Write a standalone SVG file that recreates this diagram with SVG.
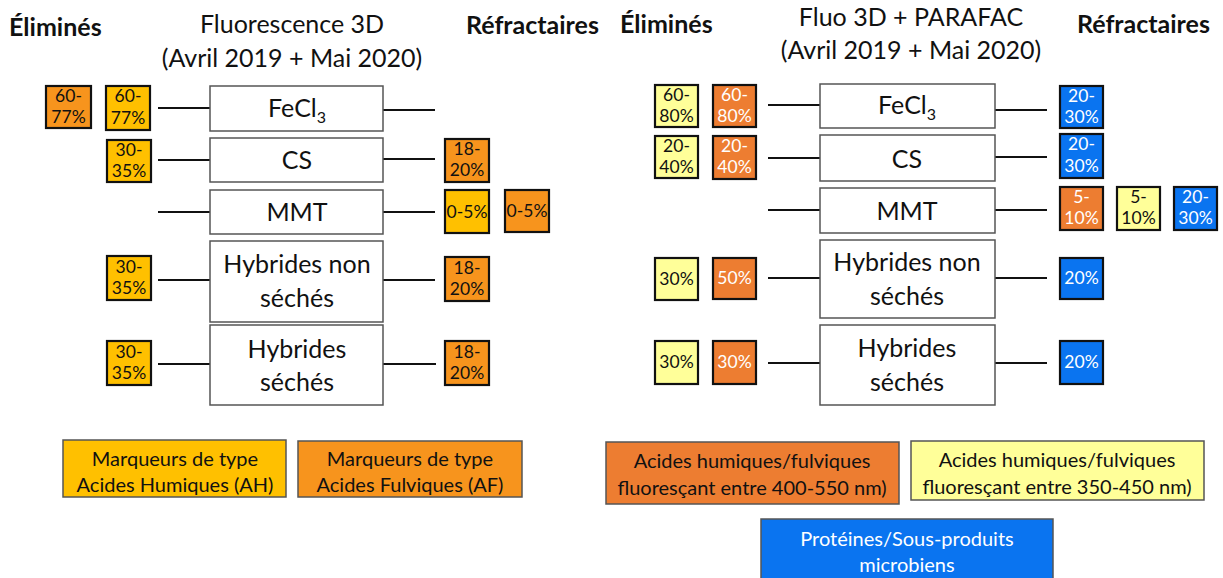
<svg xmlns="http://www.w3.org/2000/svg" width="1223" height="578" viewBox="0 0 1223 578">
<style>
text{font-family:Lato,"Noto Sans","Liberation Sans",sans-serif;fill:#111;text-anchor:middle}
.hd{font-weight:bold;font-size:25px;text-anchor:start}
.tt{font-size:25px}
.main rect{fill:#fff;stroke:#555;stroke-width:1.5}
.main text{font-size:25px}
.sm rect{stroke:#111;stroke-width:2.2}
.sm text{font-size:17.5px}
.y rect{fill:#FFC000}
.o rect{fill:#F7941D}
.p rect{fill:#FFFF99}
.r rect{fill:#ED7D31}
.r text,.b text{fill:#fff}
.b rect{fill:#0A74F0}
.lg rect{stroke:#555;stroke-width:1.5}
.lg text{font-size:20px}
.lgb text{fill:#fff}
#connectors line{stroke:#111;stroke-width:2.2}
</style>
<rect width="1223" height="578" fill="#fff"/>

<!-- Headers -->
<g id="hdr-left">
<text class="hd" x="9" y="36">Éliminés</text>
<text class="tt" x="292" y="33">Fluorescence 3D</text>
<text class="tt" x="292" y="67">(Avril 2019 + Mai 2020)</text>
<text class="hd" x="466" y="34">Réfractaires</text>
</g>
<g id="hdr-right">
<text class="hd" x="620" y="33">Éliminés</text>
<text class="tt" x="911" y="26">Fluo 3D + PARAFAC</text>
<text class="tt" x="911" y="59">(Avril 2019 + Mai 2020)</text>
<text class="hd" x="1077" y="33">Réfractaires</text>
</g>

<!-- Connectors -->
<g id="connectors">
<line x1="158" y1="108" x2="210" y2="108"/><line x1="383" y1="110" x2="435" y2="110"/>
<line x1="158" y1="160" x2="210" y2="160"/><line x1="383" y1="159" x2="435" y2="159"/>
<line x1="158" y1="212" x2="210" y2="212"/><line x1="383" y1="212" x2="435" y2="212"/>
<line x1="158" y1="280" x2="210" y2="280"/><line x1="383" y1="280" x2="435" y2="280"/>
<line x1="158" y1="364" x2="210" y2="364"/><line x1="383" y1="364" x2="436" y2="364"/>
<line x1="768" y1="105" x2="820" y2="105"/><line x1="995" y1="110" x2="1047" y2="110"/>
<line x1="768" y1="158" x2="820" y2="158"/><line x1="995" y1="157" x2="1047" y2="157"/>
<line x1="768" y1="210" x2="820" y2="210"/><line x1="995" y1="210" x2="1047" y2="210"/>
<line x1="768" y1="278" x2="820" y2="278"/><line x1="995" y1="278" x2="1047" y2="278"/>
<line x1="768" y1="363" x2="820" y2="363"/><line x1="995" y1="363" x2="1047" y2="363"/>
</g>

<!-- Left main nodes -->
<g id="L-fecl3" class="main"><rect x="210" y="86" width="173" height="45"/><text x="297" y="117">FeCl<tspan font-size="16" dy="6">3</tspan></text></g>
<g id="L-cs" class="main"><rect x="210" y="138" width="173" height="44"/><text x="297" y="169">CS</text></g>
<g id="L-mmt" class="main"><rect x="210" y="190" width="173" height="44"/><text x="297" y="221">MMT</text></g>
<g id="L-hns" class="main"><rect x="210" y="241" width="173" height="81"/><text x="297" y="273">Hybrides non</text><text x="297" y="307">séchés</text></g>
<g id="L-hs" class="main"><rect x="210" y="325" width="173" height="80"/><text x="297" y="358">Hybrides</text><text x="297" y="391">séchés</text></g>

<!-- Left small boxes -->
<g id="L-fecl3-af" class="sm o"><rect x="46" y="86" width="45" height="42"/><text x="68.5" y="102">60-</text><text x="68.5" y="123">77%</text></g>
<g id="L-fecl3-ah" class="sm y"><rect x="106" y="86" width="44" height="44"/><text x="128" y="102">60-</text><text x="128" y="124">77%</text></g>
<g id="L-cs-ah" class="sm y"><rect x="107" y="140" width="44" height="42"/><text x="129" y="156">30-</text><text x="129" y="177">35%</text></g>
<g id="L-cs-af" class="sm o"><rect x="445" y="139" width="44" height="43"/><text x="467" y="155">18-</text><text x="467" y="176">20%</text></g>
<g id="L-mmt-ah" class="sm y"><rect x="445" y="190" width="44" height="43"/><text x="467" y="218">0-5%</text></g>
<g id="L-mmt-af" class="sm o"><rect x="505" y="190" width="44" height="42"/><text x="527" y="217">0-5%</text></g>
<g id="L-hns-ah" class="sm y"><rect x="107" y="256" width="44" height="44"/><text x="129" y="273">30-</text><text x="129" y="294">35%</text></g>
<g id="L-hns-af" class="sm o"><rect x="445" y="257" width="44" height="44"/><text x="467" y="274">18-</text><text x="467" y="295">20%</text></g>
<g id="L-hs-ah" class="sm y"><rect x="107" y="341" width="44" height="44"/><text x="129" y="358">30-</text><text x="129" y="379">35%</text></g>
<g id="L-hs-af" class="sm o"><rect x="445" y="341" width="44" height="44"/><text x="467" y="358">18-</text><text x="467" y="379">20%</text></g>

<!-- Right main nodes -->
<g id="R-fecl3" class="main"><rect x="820" y="84" width="175" height="44"/><text x="907" y="114">FeCl<tspan font-size="16" dy="6">3</tspan></text></g>
<g id="R-cs" class="main"><rect x="820" y="135" width="175" height="46"/><text x="907" y="168">CS</text></g>
<g id="R-mmt" class="main"><rect x="820" y="188" width="175" height="45"/><text x="907" y="220">MMT</text></g>
<g id="R-hns" class="main"><rect x="820" y="240" width="175" height="78"/><text x="907" y="271">Hybrides non</text><text x="907" y="305">séchés</text></g>
<g id="R-hs" class="main"><rect x="820" y="325" width="175" height="80"/><text x="907" y="357">Hybrides</text><text x="907" y="391">séchés</text></g>

<!-- Right small boxes -->
<g id="R-fecl3-p" class="sm p"><rect x="655" y="85" width="43" height="42"/><text x="676.5" y="101">60-</text><text x="676.5" y="122">80%</text></g>
<g id="R-fecl3-r" class="sm r"><rect x="713" y="85" width="43" height="42"/><text x="734.5" y="101">60-</text><text x="734.5" y="122">80%</text></g>
<g id="R-fecl3-b" class="sm b"><rect x="1060" y="86" width="43" height="42"/><text x="1081.5" y="102">20-</text><text x="1081.5" y="123">30%</text></g>
<g id="R-cs-p" class="sm p"><rect x="655" y="136" width="43" height="42"/><text x="676.5" y="152">20-</text><text x="676.5" y="173">40%</text></g>
<g id="R-cs-r" class="sm r"><rect x="713" y="136" width="43" height="43"/><text x="734.5" y="152">20-</text><text x="734.5" y="173">40%</text></g>
<g id="R-cs-b" class="sm b"><rect x="1060" y="134" width="43" height="44"/><text x="1081.5" y="150">20-</text><text x="1081.5" y="172">30%</text></g>
<g id="R-mmt-r" class="sm r"><rect x="1060" y="187" width="43" height="43"/><text x="1081.5" y="203">5-</text><text x="1081.5" y="224">10%</text></g>
<g id="R-mmt-p" class="sm p"><rect x="1117" y="187" width="43" height="43"/><text x="1138.5" y="203">5-</text><text x="1138.5" y="224">10%</text></g>
<g id="R-mmt-b" class="sm b"><rect x="1174" y="187" width="43" height="43"/><text x="1195.5" y="203">20-</text><text x="1195.5" y="224">30%</text></g>
<g id="R-hns-p" class="sm p"><rect x="655" y="258" width="43" height="42"/><text x="676.5" y="285">30%</text></g>
<g id="R-hns-r" class="sm r"><rect x="713" y="258" width="43" height="41"/><text x="734.5" y="284">50%</text></g>
<g id="R-hns-b" class="sm b"><rect x="1060" y="258" width="43" height="41"/><text x="1081.5" y="284">20%</text></g>
<g id="R-hs-p" class="sm p"><rect x="655" y="341" width="43" height="43"/><text x="676.5" y="368">30%</text></g>
<g id="R-hs-r" class="sm r"><rect x="713" y="341" width="43" height="43"/><text x="734.5" y="368">30%</text></g>
<g id="R-hs-b" class="sm b"><rect x="1060" y="341" width="43" height="43"/><text x="1081.5" y="368">20%</text></g>

<!-- Legends -->
<g id="leg-ah" class="lg"><rect x="63" y="440" width="223" height="57" fill="#FFC000"/><text x="175" y="466">Marqueurs de type</text><text x="175" y="492">Acides Humiques (AH)</text></g>
<g id="leg-af" class="lg"><rect x="298" y="441" width="224" height="56" fill="#F7941D"/><text x="410" y="466">Marqueurs de type</text><text x="410" y="492">Acides Fulviques (AF)</text></g>
<g id="leg-400" class="lg"><rect x="606" y="442" width="293" height="62" fill="#ED7D31"/><text x="752" y="468">Acides humiques/fulviques</text><text x="752" y="495">fluoresçant entre 400-550 nm)</text></g>
<g id="leg-350" class="lg"><rect x="911" y="441" width="293" height="59" fill="#FFFF99"/><text x="1057" y="467">Acides humiques/fulviques</text><text x="1057" y="494">fluoresçant entre 350-450 nm)</text></g>
<g id="leg-prot" class="lg lgb"><rect x="761" y="519" width="292" height="62" fill="#0A74F0"/><text x="907" y="546">Protéines/Sous-produits</text><text x="907" y="572">microbiens</text></g>
</svg>
